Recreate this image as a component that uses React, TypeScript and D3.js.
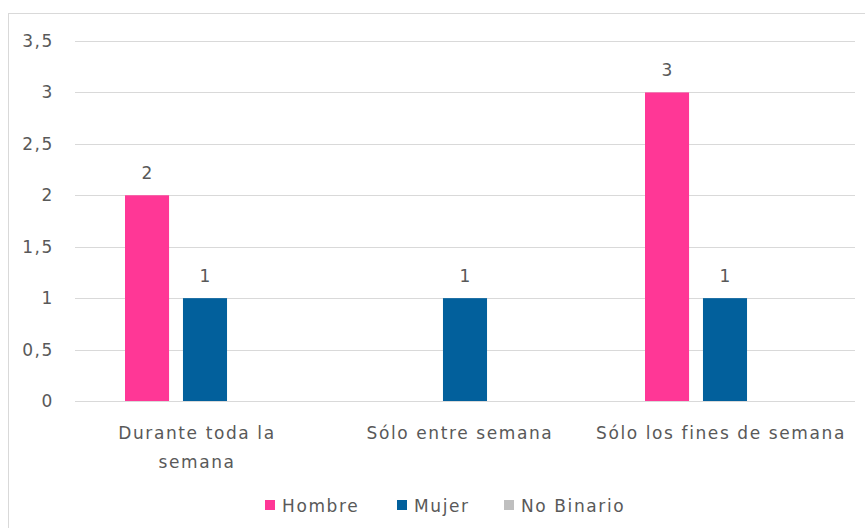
import * as d3 from 'd3';
import {useEffect, useRef} from 'react';

const categories = ['Durante toda la semana', 'Sólo entre semana', 'Sólo los fines de semana'];
const seriesNames = ['Hombre', 'Mujer', 'No Binario'];
const hombre = [2, 0, 3];
const mujer = [1, 1, 1];
const noBinario = [0, 0, 0];
const yTicks = [0, 0.5, 1, 1.5, 2, 2.5, 3, 3.5];

const colors = ['#FF3796', '#02609C', '#BFBFBF'];
const FONT = '"DejaVu Sans", sans-serif';
const LS = 1.6;

export default function App() {
    const ref = useRef<SVGSVGElement>(null);
    const width = 865;
    const height = 528;

    useEffect(() => {
        const svg = d3.select(ref.current);
        svg.selectAll('*').remove();

        svg.append('rect')
            .attr('x', 8.5)
            .attr('y', 13.5)
            .attr('width', 870)
            .attr('height', 540)
            .attr('fill', '#fff')
            .attr('stroke', '#d9d9d9');

        const x = d3.scaleBand<string>().domain(categories).range([75, 855]);
        const y = d3.scaleLinear().domain([0, 3.5]).range([401, 41]);
        const inner = d3.scaleBand<string>().domain(seriesNames).range([-80, 80]).paddingInner(0.24).paddingOuter(0);

        const grid = svg.append('g');
        grid.selectAll('line')
            .data(yTicks)
            .join('line')
            .attr('x1', 75)
            .attr('x2', 855)
            .attr('y1', (d) => Math.round(y(d)) + 0.5)
            .attr('y2', (d) => Math.round(y(d)) + 0.5)
            .attr('stroke', '#d9d9d9')
            .attr('stroke-width', 1.2);

        svg.append('g')
            .selectAll('text')
            .data(yTicks)
            .join('text')
            .attr('x', 54)
            .attr('y', (d) => y(d))
            .attr('dy', '0.35em')
            .attr('text-anchor', 'end')
            .attr('font-family', FONT)
            .attr('font-size', 17)
            .attr('letter-spacing', LS)
            .attr('fill', '#595959')
            .text((d) => String(d).replace('.', ','));

        const series = [hombre, mujer, noBinario];
        series.forEach((vals, si) => {
            const g = svg.append('g');
            const data = vals.map((v, i) => ({v, c: categories[i]}));
            const shown = data.filter((d) => d.v > 0);
            g.selectAll('rect')
                .data(shown)
                .join('rect')
                .attr('x', (d) => x(d.c)! + x.bandwidth() / 2 + inner(seriesNames[si])!)
                .attr('width', inner.bandwidth())
                .attr('y', (d) => y(d.v))
                .attr('height', (d) => y(0) - y(d.v))
                .attr('fill', colors[si]);
            g.selectAll('text')
                .data(shown)
                .join('text')
                .attr('x', (d) => x(d.c)! + x.bandwidth() / 2 + inner(seriesNames[si])! + inner.bandwidth() / 2)
                .attr('y', (d) => y(d.v) - 16)
                .attr('text-anchor', 'middle')
                .attr('font-family', FONT)
                .attr('font-size', 17)
                .attr('fill', '#595959')
                .text((d) => d.v);
        });

        // category labels, wrapped like the original
        const wrapped: Record<string, string[]> = {
            'Durante toda la semana': ['Durante toda la', 'semana'],
        };
        const xl = svg.append('g');
        categories.forEach((c) => {
            const lines = wrapped[c] ?? [c];
            const t = xl.append('text')
                .attr('text-anchor', 'middle')
                .attr('font-family', FONT)
                .attr('font-size', 17)
                .attr('letter-spacing', LS)
                .attr('fill', '#595959');
            lines.forEach((ln, i) => {
                t.append('tspan')
                    .attr('x', x(c)! + x.bandwidth() / 2 - (c === categories[0] ? 8 : c === categories[1] ? 5 : 4))
                    .attr('y', 439 + i * 29)
                    .text(ln);
            });
        });

        const legendX = [265, 397, 504];
        const lg = svg.append('g');
        seriesNames.forEach((s, i) => {
            lg.append('rect')
                .attr('x', legendX[i])
                .attr('y', 500)
                .attr('width', 10)
                .attr('height', 10)
                .attr('fill', colors[i]);
            lg.append('text')
                .attr('x', legendX[i] + 17)
                .attr('y', 512)
                .attr('font-family', FONT)
                .attr('font-size', 17)
                .attr('letter-spacing', LS)
                .attr('fill', '#595959')
                .text(s);
        });
    }, []);

    return (
        <svg
            ref={ref}
            width={width}
            height={height}
            style={{position: 'absolute', left: 0, top: 0, background: '#fff'}}
        ></svg>
    );
}
